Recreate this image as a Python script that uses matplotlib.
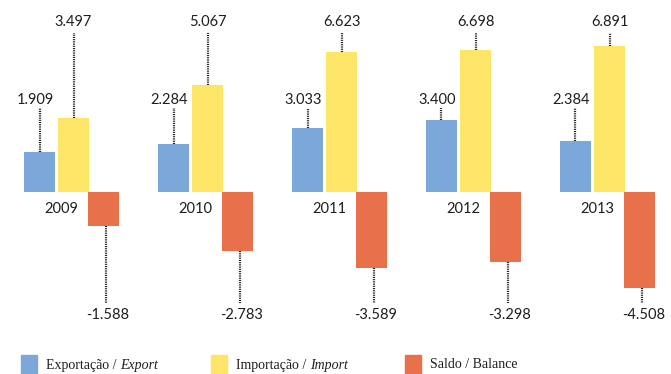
import numpy as np
import matplotlib
matplotlib.use('Agg')
import matplotlib.pyplot as plt
from matplotlib.patches import Rectangle

# trade values by year (exports, imports, balance)
years = ['2009', '2010', '2011', '2012', '2013']
exports = [1.909, 2.284, 3.033, 3.400, 2.384]
imports = [3.497, 5.067, 6.623, 6.698, 6.891]
balance = [-1.588, -2.783, -3.589, -3.298, -4.508]

BLUE = '#7ba8d8'
YELLOW = '#fde667'
RED = '#e8704b'
INK = '#1e1e1e'

plt.rcParams['font.family'] = ['Lato', 'DejaVu Sans']

fig = plt.figure(figsize=(6.71, 3.74), dpi=100)
ax = fig.add_axes([0, 0, 1, 1])
ax.set_xlim(-0.2948, 4.7127)
ax.set_ylim(-8.585, 9.057)
ax.axis('off')

x = np.arange(len(years))
w = 0.231
off_imp = 0.254
off_bal = 0.478

ax.bar(x, exports, width=w, color=BLUE)
ax.bar(x + off_imp, imports, width=w, color=YELLOW)
ax.bar(x + off_bal, balance, width=w, color=RED)

lead = dict(color=INK, lw=1.6, linestyle=(0, (0.5, 0.5)))
num = dict(fontsize=10.5, color=INK, ha='center', va='center')

# dotted leaders up/down to fixed label rows
for i in range(len(years)):
    ax.plot([x[i], x[i]], [exports[i], 3.96], **lead)
    ax.text(x[i] - 0.03, 4.34, f'{exports[i]:.3f}', **num)

    ax.plot([x[i] + off_imp] * 2, [imports[i], 7.5], **lead)
    ax.text(x[i] + off_imp, 8.04, f'{imports[i]:.3f}', **num)

    ax.plot([x[i] + off_bal + 0.02] * 2, [balance[i], -5.24], **lead)
    ax.text(x[i] + off_bal + 0.03, -5.8, f'{balance[i]:.3f}', **num)

    ax.text(x[i] + 0.16, -0.8, years[i], **num)

# legend along the bottom edge
W, H = 671, 374
legend_items = [(BLUE, 'Exportação / ', 'Export', 21),
                (YELLOW, 'Importação / ', 'Import', 211),
                (RED, 'Saldo / Balance', '', 405)]
serif = ['Liberation Serif', 'DejaVu Serif']
fig.canvas.draw()
r = fig.canvas.get_renderer()
for color, plain, ital, px in legend_items:
    fig.patches.append(Rectangle((px / W, 0), 16 / W, 19 / H,
                                 transform=fig.transFigure, color=color))
    t = fig.text((px + 25) / W, 9 / H, plain, fontsize=10, family=serif,
                 color=INK, va='center', ha='left')
    if ital:
        bb = t.get_window_extent(r)
        fig.text(bb.x1 / W, 9 / H, ital, fontsize=10, family=serif,
                 style='italic', color=INK, va='center', ha='left')

fig.savefig('out.png', dpi=100)
